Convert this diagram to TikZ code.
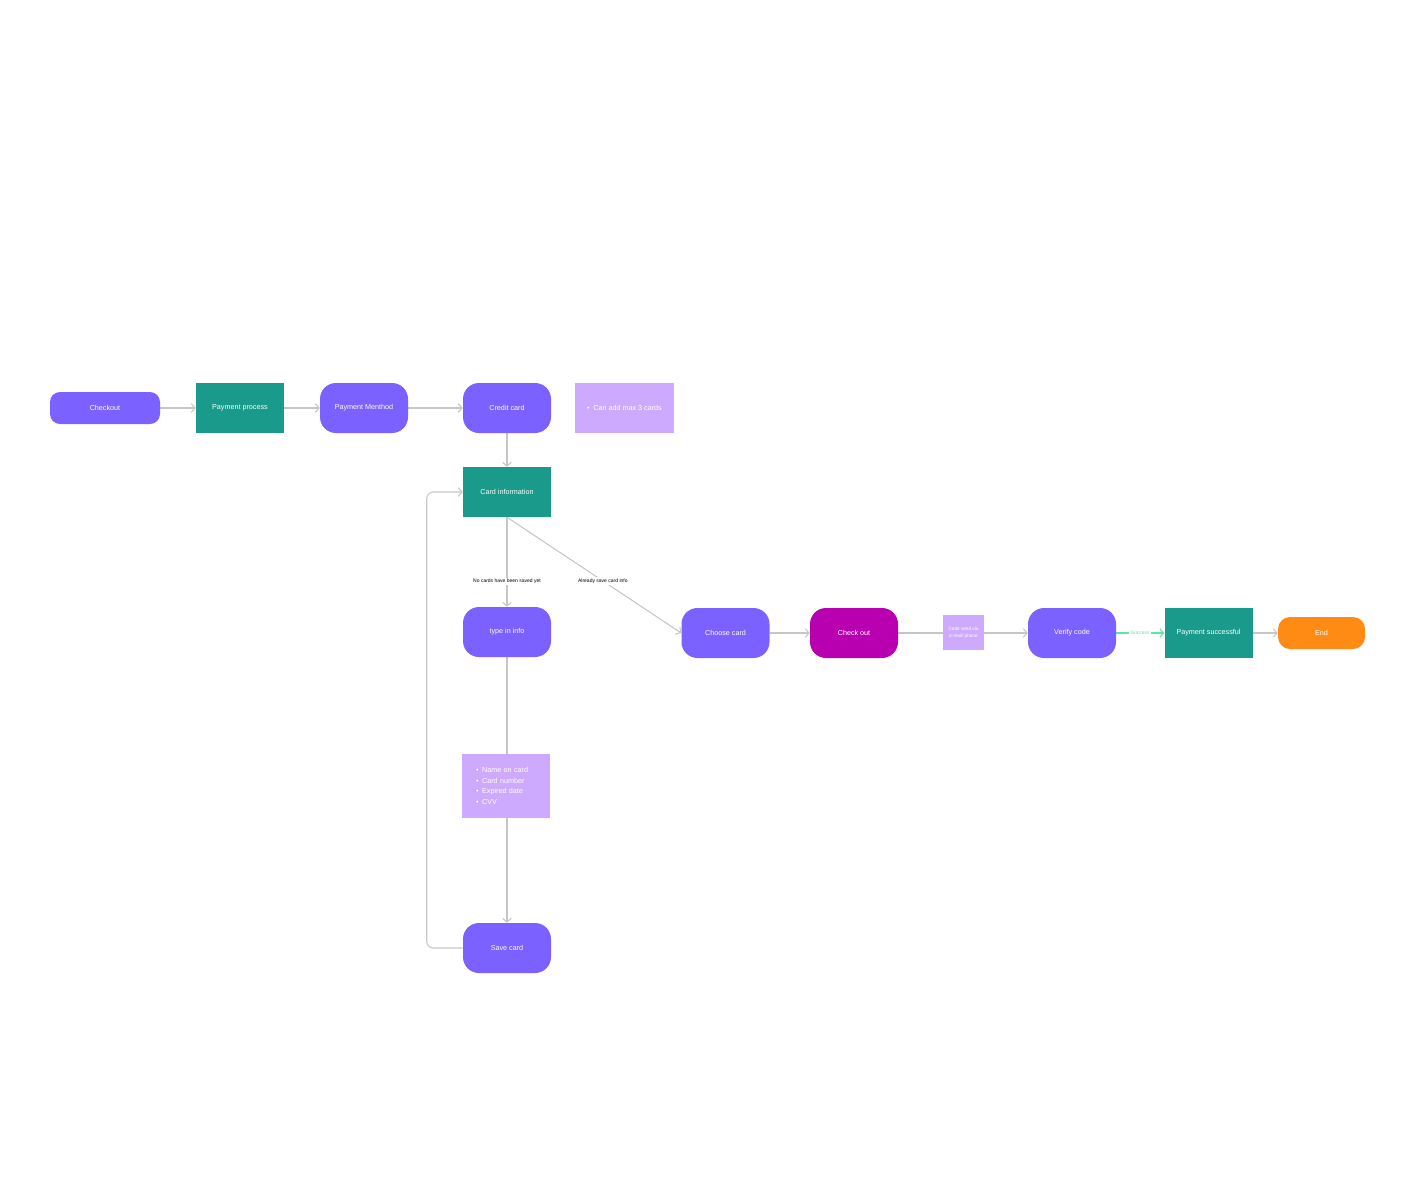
\documentclass[tikz,border=0pt]{standalone}
\usepackage{fontspec}
\setmainfont{Liberation Sans}
\usetikzlibrary{arrows.meta,positioning,calc}
\pgfdeclarelayer{bg}
\pgfsetlayers{bg,main}
\definecolor{purp}{HTML}{7B61FF}
\definecolor{teal}{HTML}{1A9A8B}
\definecolor{lilac}{HTML}{CDAAFD}
\definecolor{mag}{HTML}{B800B0}
\definecolor{orng}{HTML}{FF8A14}
\definecolor{lgray}{HTML}{C6C6C6}
\definecolor{sgreen}{HTML}{5EE6A0}
\tikzset{
  base/.style={text=white, font=\fontsize{5.4pt}{6.5pt}\selectfont, inner sep=0pt, align=center},
  pill/.style={base, fill=purp, rounded corners=12pt, minimum width=66pt, minimum height=37.5pt},
  term/.style={base, fill=purp, rounded corners=7.5pt, minimum width=82.5pt, minimum height=24pt},
  proc/.style={base, fill=teal, minimum width=66pt, minimum height=37.5pt},
  note/.style={base, fill=lilac},
  conn/.style={draw=lgray, line width=0.8pt, -{Straight Barb[length=2.8pt,width=6.5pt]}},
  lbl/.style={fill=white, text=black, font=\fontsize{3.75pt}{4.5pt}\selectfont, inner sep=1pt}
}
\begin{document}
\begin{tikzpicture}[x=0.75pt,y=-0.75pt]
\useasboundingbox (0,0) rectangle (1424,1200);
% top row
\node[term] (checkout) at (105,408) {Checkout};
\node[proc] (payproc) at (240,408) {Payment process};
\node[pill] (paymeth) at (364,408) {Payment Menthod};
\node[pill] (credit) at (507,408) {Credit card};
\node[note, minimum width=74.25pt, minimum height=37.5pt] (maxnote) at (624.5,408) {\textbullet\enspace Can add max 3 cards};
% column
\node[proc] (cardinfo) at (507,492) {Card information};
\node[pill] (typein) at (507,632) {type in info};
\node[note, text width=45pt, inner xsep=10.5pt, minimum height=48pt, align=left, font=\fontsize{5.4pt}{7.9pt}\selectfont] (fields) at (506,786)
  {\textbullet\enspace Name on card\\\textbullet\enspace Card number\\\textbullet\enspace Expired date\\\textbullet\enspace CVV};
\node[pill] (save) at (507,948) {Save card};
% right row
\node[pill] (choose) at (725.5,633) {Choose card};
\node[pill, fill=mag] (checkoutb) at (854,633) {Check out};
\node[note, minimum width=30.75pt, minimum height=26.25pt, font=\fontsize{3.5pt}{5pt}\selectfont] (codenote) at (963.5,632.5) {Code send via\\e-mail/ phone};
\node[pill] (verify) at (1072,633) {Verify code};
\node[proc] (success) at (1208.5,633) {Payment successful};
\node[term, fill=orng, rounded corners=9pt, minimum width=65.25pt] (endn) at (1321.5,633) {End};
\begin{pgfonlayer}{bg}
\draw[conn] (checkout) -- (payproc);
\draw[conn] (payproc) -- (paymeth);
\draw[conn] (paymeth) -- (credit);
\draw[conn] (credit) -- (cardinfo);
\draw[conn] (cardinfo) -- node[lbl, pos=0.72] {No cards have been saved yet} (typein);
\draw[conn] (cardinfo.south) -- node[lbl, pos=0.55] {Already save card info} (choose.west);
\draw[conn] (typein) -- (save);
\draw[conn, rounded corners=5pt] (save.west) -- ++(-36,0) |- (cardinfo.west);
\draw[conn] (choose) -- (checkoutb);
\draw[conn] (checkoutb) -- (verify);
\draw[conn, draw=sgreen] (verify) -- node[lbl, text=sgreen] {Success} (success);
\draw[conn] (success) -- (endn);
\end{pgfonlayer}
\end{tikzpicture}
\end{document}
